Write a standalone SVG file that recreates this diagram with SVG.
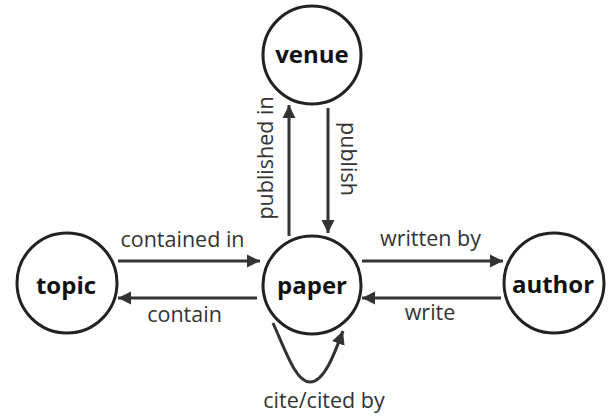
<svg xmlns="http://www.w3.org/2000/svg" width="616" height="418" viewBox="0 0 616 418">
  <style>
    .node circle { fill: #fff; stroke: #222; stroke-width: 3; }
    .node text { font-family: "Open Sans", "Liberation Sans", sans-serif; font-weight: bold; font-size: 24px; fill: #111; text-anchor: middle; }
    .edge { fill: none; stroke: #333; stroke-width: 3; }
    .lbl { font-family: "Open Sans", "Liberation Sans", sans-serif; font-size: 21.5px; fill: #333; text-anchor: middle; }
  </style>
  <defs>
    <marker id="arrow" viewBox="0 0 10 10" refX="10" refY="5" markerWidth="4.4" markerHeight="4.4" orient="auto" markerUnits="strokeWidth">
      <path d="M0,0 L10,5 L0,10 z" fill="#333"/>
    </marker>
  </defs>

  <g id="connectors">
    <line class="edge" x1="118" y1="261" x2="260" y2="261" marker-end="url(#arrow)"/>
    <line class="edge" x1="257" y1="298" x2="118" y2="298" marker-end="url(#arrow)"/>
    <line class="edge" x1="362" y1="261" x2="503" y2="261" marker-end="url(#arrow)"/>
    <line class="edge" x1="501" y1="298" x2="362" y2="298" marker-end="url(#arrow)"/>
    <line class="edge" x1="289" y1="236" x2="289" y2="105" marker-end="url(#arrow)"/>
    <line class="edge" x1="328" y1="108" x2="328" y2="233" marker-end="url(#arrow)"/>
    <path class="edge" d="M273,323 C286,352 296,382 310,382 C324,382 334,355 343,331" marker-end="url(#arrow)"/>

    <text class="lbl" x="182.5" y="247">contained in</text>
    <text class="lbl" x="184.5" y="322">contain</text>
    <text class="lbl" x="430.5" y="246">written by</text>
    <text class="lbl" x="430" y="320">write</text>
    <text class="lbl" transform="translate(273,158) rotate(-90)">published in</text>
    <text class="lbl" transform="translate(341,159) rotate(90)">publish</text>
    <text class="lbl" x="324" y="408">cite/cited by</text>
  </g>

  <g id="venue" class="node">
    <circle cx="312" cy="55" r="49"/>
    <text x="312" y="63">venue</text>
  </g>
  <g id="paper" class="node">
    <circle cx="312" cy="285" r="49"/>
    <text x="312" y="294">paper</text>
  </g>
  <g id="topic" class="node">
    <circle cx="67" cy="283" r="50"/>
    <text x="66" y="294">topic</text>
  </g>
  <g id="author" class="node">
    <circle cx="554" cy="283" r="50"/>
    <text x="553" y="293">author</text>
  </g>
</svg>
